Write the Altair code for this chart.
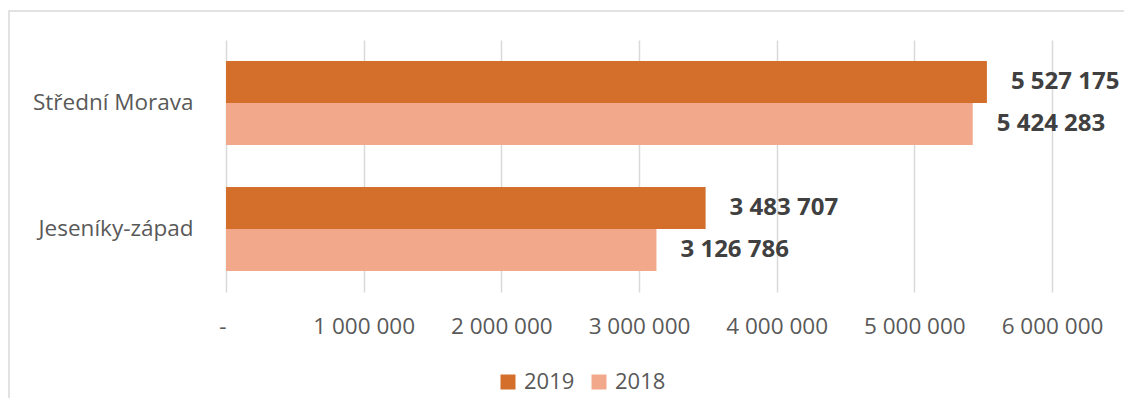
import altair as alt
import pandas as pd

regions = ["Střední Morava", "Střední Morava", "Jeseníky-západ", "Jeseníky-západ"]
years = ["2019", "2018", "2019", "2018"]
values = [5527175, 5424283, 3483707, 3126786]

region_order = ["Střední Morava", "Jeseníky-západ"]
year_order = ["2019", "2018"]
year_colors = ["#D36E2B", "#F2A98B"]
tick_values = [0, 1000000, 2000000, 3000000, 4000000, 5000000, 6000000]

df = pd.DataFrame({"region": regions, "year": years, "value": values})

FONT = "Open Sans"
W, H = 826, 252

base = alt.Chart(df).encode(
    y=alt.Y("region:N", sort=region_order, title=None,
            scale=alt.Scale(paddingInner=1/3, paddingOuter=1/6),
            axis=alt.Axis(domain=False, ticks=False, labelPadding=33,
                          labelFontSize=22.5, labelColor="#595959", labelFont=FONT)),
    yOffset=alt.YOffset("year:N", sort=year_order,
                        scale=alt.Scale(paddingInner=0, paddingOuter=0)),
)

bars = base.mark_bar().encode(
    x=alt.X("value:Q", title=None,
            scale=alt.Scale(domain=[0, 6000000], nice=False),
            axis=alt.Axis(values=tick_values, domain=False, ticks=False,
                          grid=True, gridColor="#d9d9d9", gridWidth=1.5,
                          labelFlush=False, labelOverlap=False,
                          labelAlign={"condition": {"test": "datum.value == 0", "value": "right"},
                                      "value": "center"},
                          labelPadding=23, labelFontSize=22.5, labelColor="#595959",
                          labelFont=FONT,
                          labelExpr="datum.value == 0 ? '-' : format(datum.value, ',')")),
    color=alt.Color("year:N", sort=year_order,
                    scale=alt.Scale(domain=year_order, range=year_colors),
                    legend=alt.Legend(title=None, orient="none", direction="horizontal",
                                      legendX=271, legendY=331,
                                      symbolType="square", symbolSize=225,
                                      symbolStrokeWidth=0, symbolOpacity=1,
                                      labelFontSize=22, labelColor="#595959",
                                      labelFont=FONT, labelOffset=5,
                                      columnPadding=13)),
)

labels = base.mark_text(align="left", baseline="middle", dx=24, fontSize=24,
                        fontWeight="bold", font=FONT, color="#404040").encode(
    x=alt.X("value:Q"),
    text=alt.Text("value:Q", format=","),
)

frame = alt.Chart(alt.Data(values=[{"a": 1}])).mark_rect(
    filled=False, stroke="#d9d9d9", strokeWidth=1.5
).encode(
    x=alt.value(-217), x2=alt.value(W + 120),
    y=alt.value(-29), y2=alt.value(H + 200),
)

chart = alt.layer(frame, bars, labels).properties(
    width=W, height=H,
    autosize=alt.AutoSizeParams(type="none"),
    padding={"left": 218, "top": 32, "right": 72, "bottom": 106},
).configure(
    locale={"number": {"decimal": ",", "thousands": " ", "grouping": [3],
                       "currency": ["", " Kč"]}}
).configure_view(stroke=None)

chart.save("out.html", embed_options={"renderer": "svg", "actions": False})
